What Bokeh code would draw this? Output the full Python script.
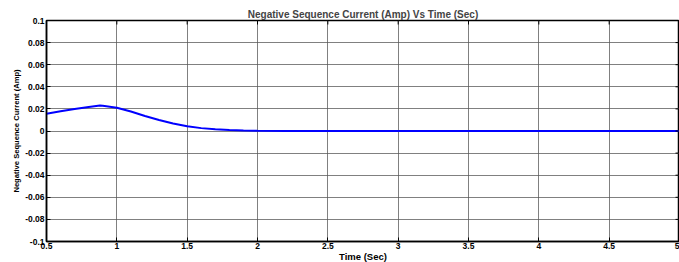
import math
from bokeh.plotting import figure
from bokeh.models import FixedTicker, Range1d, Title
from bokeh.embed import file_html
from bokeh.resources import INLINE

# Data
time_s = [0.5, 0.6, 0.7, 0.8, 0.88, 0.9, 1.0, 1.1, 1.2, 1.3, 1.4, 1.5, 1.6, 1.7,
          1.8, 1.9, 2.0, 2.2, 2.5, 3.0, 3.5, 4.0, 4.5, 5.0]
neg_seq_current = [0.0157, 0.0178, 0.0199, 0.0218, 0.0230, 0.0229, 0.0211, 0.0176,
                   0.0136, 0.0100, 0.0068, 0.0043, 0.0026, 0.0015, 0.0008, 0.0004,
                   0.0002, 0.0001, 0.0, 0.0, 0.0, 0.0, 0.0, 0.0]

x_ticks = [0.5, 1, 1.5, 2, 2.5, 3, 3.5, 4, 4.5, 5]
x_tick_labels = ["0.5", "1", "1.5", "2", "2.5", "3", "3.5", "4", "4.5", "5"]
y_ticks = [-0.1, -0.08, -0.06, -0.04, -0.02, 0, 0.02, 0.04, 0.06, 0.08, 0.1]
y_tick_labels = ["-0.1", "-0.08", "-0.06", "-0.04", "-0.02", "0", "0.02", "0.04",
                 "0.06", "0.08", "0.1"]

FONT = "Liberation Sans"

p = figure(output_backend="svg", toolbar_location=None,
           frame_width=633, frame_height=221,
           x_range=Range1d(x_ticks[0], x_ticks[-1]),
           y_range=Range1d(y_ticks[0], y_ticks[-1]),
           min_border_left=46, min_border_right=0, min_border_top=20,
           min_border_bottom=21, title=None)
p.outline_line_color = "black"
p.outline_line_width = 1.5
p.background_fill_color = "white"
p.border_fill_color = "white"

t = Title(text="Negative Sequence Current (Amp) Vs Time (Sec)", align="center",
          text_font=FONT, text_font_size="10px", text_font_style="bold",
          standoff=2, offset=0)
p.add_layout(t, "above")

for g, tk in ((p.xgrid[0], x_ticks), (p.ygrid[0], y_ticks)):
    g.ticker = FixedTicker(ticks=tk)
    g.grid_line_color = "#555555"
    g.grid_line_alpha = 0.75
    g.grid_line_width = 1

p.line(time_s, neg_seq_current, line_color="#0000FF", line_width=2)

# inner tick marks on the top and right edges (box style)
p.scatter(x_ticks, [y_ticks[-1]] * len(x_ticks), marker="dash", angle=math.pi / 2,
          size=8, line_color="black", line_width=1)
p.scatter([x_ticks[-1]] * len(y_ticks), y_ticks, marker="dash",
          size=8, line_color="black", line_width=1)

def style_axis(ax, ticks, labels):
    ax.ticker = FixedTicker(ticks=ticks)
    ax.major_label_overrides = {tk: lb for tk, lb in zip(ticks, labels)}
    ax.major_tick_in = 4
    ax.major_tick_out = 0
    ax.minor_tick_in = 0
    ax.minor_tick_out = 0
    ax.axis_line_color = "black"
    ax.axis_line_width = 1.5
    ax.major_tick_line_color = "black"
    ax.major_label_text_font = FONT
    ax.major_label_text_font_size = "8.5px"
    ax.major_label_text_font_style = "bold"
    ax.major_label_text_color = "black"
    ax.axis_label_text_font = FONT
    ax.axis_label_text_font_style = "bold"
    ax.axis_label_text_color = "black"
    ax.major_label_standoff = 2
    ax.axis_label_standoff = 1

style_axis(p.xaxis[0], x_ticks, x_tick_labels)
style_axis(p.yaxis[0], y_ticks, y_tick_labels)
p.xaxis[0].axis_label = "Time (Sec)"
p.xaxis[0].axis_label_text_font_size = "9.5px"
p.xaxis[0].major_label_standoff = 1
p.xaxis[0].axis_label_standoff = -1
p.yaxis[0].axis_label = "Negative Sequence Current (Amp)"
p.yaxis[0].axis_label_text_font_size = "7.6px"

open("out.html", "w").write(file_html(p, INLINE))
